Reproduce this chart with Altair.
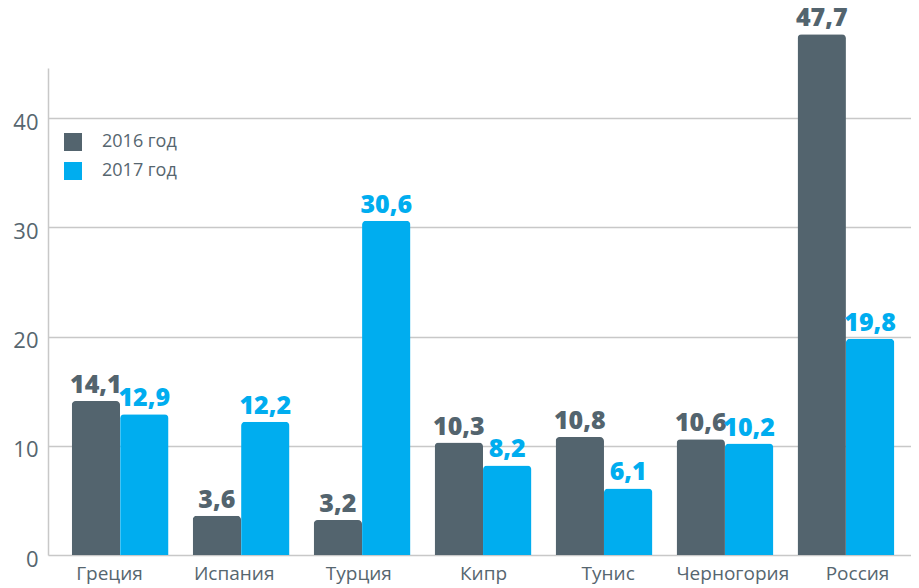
import altair as alt
import pandas as pd

countries = ["Греция", "Испания", "Турция", "Кипр", "Тунис", "Черногория", "Россия"]
series = ["2016 год", "2017 год"]
v2016 = [14.1, 3.6, 3.2, 10.3, 10.8, 10.6, 47.7]
v2017 = [12.9, 12.2, 30.6, 8.2, 6.1, 10.2, 19.8]
y_ticks = [0, 10, 20, 30, 40]
colors = ["#53646e", "#00adef"]

rows = []
for c, a, b in zip(countries, v2016, v2017):
    rows.append({"country": c, "series": series[0], "value": a, "label": f"{a:.1f}".replace(".", ",")})
    rows.append({"country": c, "series": series[1], "value": b, "label": f"{b:.1f}".replace(".", ",")})
df = pd.DataFrame(rows)
cat_df = pd.DataFrame({"country": countries})

FONT = "Open Sans"
GRAY_TXT = "#56666f"
W, H = 863, 487

x = alt.X(
    "country:N",
    sort=countries,
    scale=alt.Scale(paddingInner=0.2, paddingOuter=0.167, align=0.587),
    axis=None,
)
xo = alt.XOffset("series:N", sort=series)
y = alt.Y(
    "value:Q",
    scale=alt.Scale(domain=[0, 44.6], nice=False, zero=True),
    axis=alt.Axis(
        title=None, values=y_ticks, grid=True, gridColor="#c8c8c8", gridWidth=1.5,
        domain=True, domainColor="#c8c8c8", domainWidth=1.5, ticks=False,
        labelPadding=10, labelFontSize=22, labelColor=GRAY_TXT, labelFont=FONT,
        labelOffset=4,
    ),
)
color = alt.Color(
    "series:N",
    sort=series,
    scale=alt.Scale(domain=series, range=colors),
    legend=alt.Legend(
        title=None, orient="none", legendX=16, legendY=65, symbolType="square",
        symbolSize=324, symbolStrokeWidth=0, labelFontSize=18, labelColor=GRAY_TXT,
        labelFont=FONT, labelOffset=20, rowPadding=11, padding=0,
    ),
)

bars = alt.Chart(df).mark_bar(cornerRadiusTopLeft=4, cornerRadiusTopRight=4).encode(
    x=x, xOffset=xo, y=y, color=color
)
texts = alt.Chart(df).mark_text(
    baseline="alphabetic", dy=-8, fontSize=25, fontWeight=800, font=FONT
).encode(
    x=x, xOffset=xo, y=y, text="label:N",
    color=alt.Color("series:N", sort=series, scale=alt.Scale(domain=series, range=colors), legend=None),
)

cat_labels = alt.Chart(cat_df).mark_text(
    baseline="alphabetic", fontSize=19, font=FONT, color=GRAY_TXT
).encode(
    x=alt.X("country:N", sort=countries,
            scale=alt.Scale(type="point", range=[61.5, 809.5], padding=0), axis=None),
    y=alt.value(H + 24.5),
    text="country:N",
)

chart = alt.layer(alt.layer(bars, texts), cat_labels).resolve_scale(x="independent").properties(
    width=W, height=H,
    autosize=alt.AutoSizeParams(type="none"),
    padding={"left": 40, "top": 60, "right": 0, "bottom": 32},
).configure_view(stroke=None)

chart.save("out.html", embed_options={"renderer": "svg", "actions": False})
